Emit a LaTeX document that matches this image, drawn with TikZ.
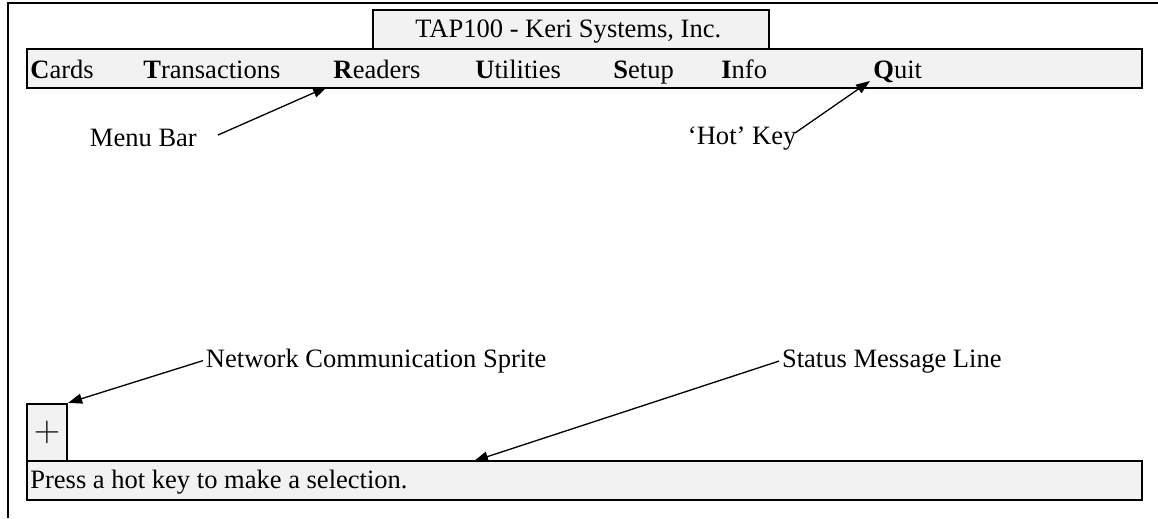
\documentclass[tikz,border=0pt]{standalone}
\usepackage{fontspec}
\setmainfont{Liberation Serif}
\usepackage{tikz}
\usetikzlibrary{arrows.meta}

\definecolor{barfill}{RGB}{242,242,242}

\begin{document}
\begin{tikzpicture}[x=0.02cm, y=-0.02cm,
  every node/.style={font=\fontsize{15.1}{18}\selectfont},
  barbox/.style={draw=black, line width=1.3pt, fill=barfill, inner sep=0pt},
  item/.style={anchor=base west, inner sep=0pt},
  callout/.style={anchor=base west, inner sep=1.5pt},
  pointer/.style={black, line width=0.75pt, -{Triangle[length=0.28cm,width=0.2cm]}}]
\useasboundingbox (0,0) rectangle (1158,518);
\draw[black, line width=1.1pt] (8,518) -- (8,3) -- (1158,3);

\node[barbox, minimum width=22.3cm, minimum height=0.78cm] (menubar) at (584.5,68.5) {};
\node[barbox, minimum width=7.92cm, minimum height=0.78cm] (titlebox) at (571,29.5) {};
\node[item] (title) at (415,37) {TAP100 - Keri Systems, Inc.};

\node[item] (cards) at (30,78) {\textbf{C}ards};
\node[item] (trans) at (143,78) {\textbf{T}ransactions};
\node[item] (readers) at (333,78) {\textbf{R}eaders};
\node[item] (utils) at (475,78) {\textbf{U}tilities};
\node[item] (setup) at (613,78) {\textbf{S}etup};
\node[item] (info) at (721,78) {\textbf{I}nfo};
\node[item] (quit) at (873,78) {\textbf{Q}uit};

\node[barbox, minimum width=0.8cm, minimum height=1.14cm,
  font=\fontsize{21}{24}\selectfont] (sprite) at (47,432.5) {$+$};
\node[barbox, minimum width=22.3cm, minimum height=0.78cm] (statbar) at (584.5,480.5) {};
\node[item] (message) at (30,488) {Press a hot key to make a selection.};

\node[callout] (menulbl) at (87,146) {Menu Bar};
\node[callout] (hotlbl) at (685,144) {`Hot' Key};
\node[callout] (netlbl) at (203,367) {Network Communication Sprite};
\node[callout] (statlbl) at (779,367) {Status Message Line};

\coordinate (menufrom) at (218,135);
\coordinate (menutip) at (327,87);
\coordinate (hotfrom) at (795,133);
\coordinate (hottip) at (870,81);
\coordinate (stattip) at (474,461);

\draw[pointer] (menufrom) -- (menutip);
\draw[pointer] (hotfrom) -- (hottip);
\draw[pointer] (netlbl.west) -- (sprite.north east);
\draw[pointer] (statlbl.west) -- (stattip);
\end{tikzpicture}
\end{document}
